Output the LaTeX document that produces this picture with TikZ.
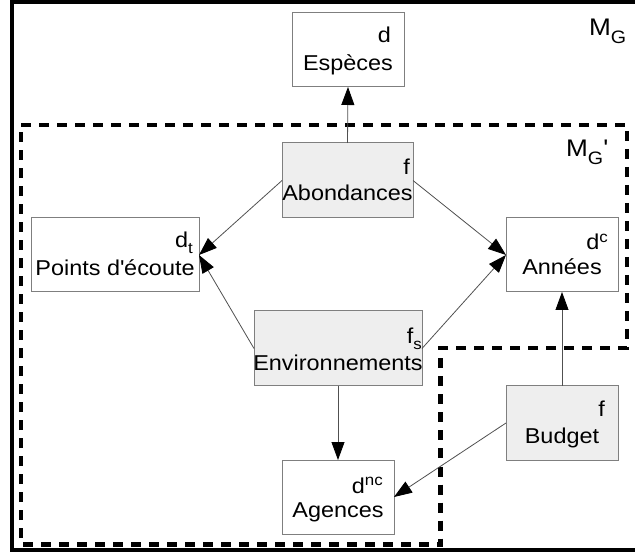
\documentclass[tikz,border=0pt]{standalone}
\usepackage{fontspec}
\setmainfont{Liberation Sans}[FakeStretch=1.09]
\usetikzlibrary{arrows.meta,calc}
\definecolor{boxgray}{HTML}{7F7F7F}
\definecolor{boxfill}{HTML}{EEEEEE}
\definecolor{linegray}{HTML}{505050}
\newcommand{\lsub}[1]{\raisebox{-6pt}{\fontsize{15.5}{15.5}\selectfont #1}}
\newcommand{\lsup}[1]{\raisebox{7pt}{\fontsize{15.5}{15.5}\selectfont #1}}
\newcommand{\msub}[1]{\raisebox{-8pt}{\fontsize{18}{18}\selectfont #1}}
\begin{document}
\begin{tikzpicture}[x=1pt,y=-1pt,
  box/.style={draw=boxgray, line width=1pt, rectangle, inner sep=0pt, outer sep=0pt, fill=white},
  gbox/.style={box, fill=boxfill},
  nametext/.style={inner sep=0pt, anchor=base, font=\fontsize{21.5}{21.5}\selectfont},
  labtext/.style={inner sep=0pt, anchor=base east, font=\fontsize{21.5}{21.5}\selectfont},
  mtext/.style={inner sep=0pt, anchor=base west, font=\fontsize{24}{24}\selectfont},
  conn/.style={draw=linegray, line width=0.8pt, -{Triangle[length=18pt,width=13pt,color=black]}},
  frame/.style={line width=4pt},
  region/.style={line width=4.5pt, dash pattern=on 10pt off 8pt}
]
\useasboundingbox (0,0) rectangle (635,553);
% outer frame M_G
\draw[frame] (11.5,2.5) rectangle (645,550);
% dashed region M_G'
\draw[region] (21,125) -- (627,125) -- (627,348) -- (440.5,348) -- (440.5,544.5) -- (21,544.5) -- cycle;

% boxes
\node[box,  minimum width=112pt, minimum height=74pt] (esp) at (348,50) {};
\node[gbox, minimum width=131pt, minimum height=75pt] (abo) at (347.5,180.5) {};
\node[box,  minimum width=168pt, minimum height=74pt] (pts) at (115,255) {};
\node[box,  minimum width=112pt, minimum height=74pt] (ann) at (562,255) {};
\node[gbox, minimum width=168pt, minimum height=75pt] (env) at (338,348.5) {};
\node[gbox, minimum width=112pt, minimum height=74pt] (bud) at (562,423) {};
\node[box,  minimum width=112pt, minimum height=74pt] (age) at (338,497) {};

% names
\node[nametext] (espn) at ($(esp.north)+(0,58)$) {Espèces};
\node[nametext] (abon) at ($(abo.north)+(0,58)$) {Abondances};
\node[nametext] (ptsn) at ($(pts.north)+(0,58)$) {Points d\textquotesingle écoute};
\node[nametext] (annn) at ($(ann.north)+(0,57)$) {Années};
\node[nametext] (envn) at ($(env.north)+(0,60)$) {Environnements};
\node[nametext] (budn) at ($(bud.north)+(0,57)$) {Budget};
\node[nametext] (agen) at ($(age.north)+(0,57)$) {Agences};

% labels
\node[labtext] (espl) at ($(esp.north east)+(-13,30)$) {d};
\node[labtext] (abol) at ($(abo.north east)+(-3,32)$) {f};
\node[labtext] (ptsl) at ($(pts.north east)+(-6,30)$) {d\lsub{t}};
\node[labtext] (annl) at ($(ann.north east)+(-10,32)$) {d\lsup{c}};
\node[labtext] (envl) at ($(env.north east)+(0,33)$) {f\lsub{s}};
\node[labtext] (budl) at ($(bud.north east)+(-13,31)$) {f};
\node[labtext] (agel) at ($(age.north east)+(-11,33)$) {d\lsup{nc}};

% region labels
\node[mtext] (mg) at (589,36) {M\msub{G}};
\node[mtext] (mgp) at (566,157) {M\msub{G}\textquotesingle};

% connectors
\draw[conn] (abo.north) -- (esp.south);
\draw[conn] (abo.west) -- (pts.east);
\draw[conn] (abo.east) -- (ann.west);
\draw[conn] (env.west) -- (pts.east);
\draw[conn] (env.east) -- (ann.west);
\draw[conn] (env.south) -- (age.north);
\draw[conn] (bud.west) -- (age.east);
\draw[conn] (bud.north) -- (ann.south);
\end{tikzpicture}
\end{document}
